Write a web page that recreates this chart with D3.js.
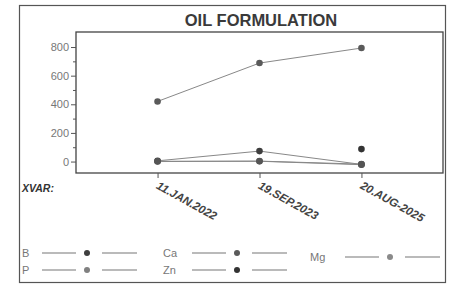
<!DOCTYPE html>
<html>
<head>
<meta charset="utf-8">
<script src="https://cdn.jsdelivr.net/npm/d3@7"></script>
<style>
    body { margin: 0; background: #fff; }
    svg { display: block; font-family: "Liberation Sans", Arial, sans-serif; }
</style>
</head>
<body>
<svg id="chart" width="457" height="286"></svg>
<script>
// Chart data
const dates = ['11.JAN.2022', '19.SEP.2023', '20.AUG-2025'];
const seriesNames = ['B', 'P', 'Ca', 'Zn', 'Mg'];
const bValues = [5, 73, -20];
const pValues = [0, 3, -18];
const caValues = [420, 688, 793];
const znValues = [null, null, 87];
const mgValues = [2, 2, -22];
const yTicks = [0, 200, 400, 600, 800];
const yMinorTicks = [100, 300, 500, 700];

const seriesValues = { B: bValues, P: pValues, Ca: caValues, Zn: znValues, Mg: mgValues };
const dotColors = { B: '#3e3e3e', P: '#808080', Ca: '#5a5a5a', Zn: '#333', Mg: '#8a8a8a' };

const svg = d3.select('#chart');

// Outer frame
svg.append('rect')
    .attr('x', 19.5).attr('y', 5.5)
    .attr('width', 426).attr('height', 277)
    .attr('fill', 'none').attr('stroke', '#555').attr('stroke-width', 1.2);

// Title
svg.append('text')
    .attr('x', 261).attr('y', 26)
    .attr('text-anchor', 'middle')
    .attr('font-size', 16.5).attr('font-weight', 'bold')
    .attr('fill', '#3a3a3a')
    .text('OIL FORMULATION');

// Plot area
const plot = { left: 76, right: 443, top: 32, bottom: 173 };

const x = d3.scalePoint()
    .domain(dates)
    .range([plot.left, plot.right])
    .padding(0.8);

const y = d3.scaleLinear()
    .domain([-80, 905])
    .range([plot.bottom, plot.top]);

svg.append('rect')
    .attr('x', plot.left).attr('y', plot.top)
    .attr('width', plot.right - plot.left).attr('height', plot.bottom - plot.top)
    .attr('fill', 'none').attr('stroke', '#444').attr('stroke-width', 1.3);

// Y axis
const yAxis = svg.append('g')
    .attr('transform', `translate(${plot.left},0)`)
    .call(d3.axisLeft(y).tickValues(yTicks).tickSize(5).tickPadding(2));
yAxis.select('.domain').remove();
yAxis.selectAll('line').attr('stroke', '#555');
yAxis.selectAll('text').attr('font-size', 11).attr('fill', '#777')
    .attr('font-family', '"Liberation Sans", Arial, sans-serif');

svg.append('g')
    .attr('transform', `translate(${plot.left},0)`)
    .call(d3.axisLeft(y).tickValues(yMinorTicks).tickSize(3).tickFormat(''))
    .call(g => g.select('.domain').remove())
    .selectAll('line').attr('stroke', '#555');

// X axis
const xAxis = svg.append('g')
    .attr('transform', `translate(0,${plot.bottom})`)
    .call(d3.axisBottom(x).tickSize(5).tickFormat(''));
xAxis.select('.domain').remove();
xAxis.selectAll('line').attr('stroke', '#555');

svg.append('g')
    .selectAll('text')
    .data(dates)
    .enter()
    .append('text')
        .attr('transform', d => `translate(${x(d) - 2},${plot.bottom + 15}) rotate(29)`)
        .attr('font-size', 11.5).attr('font-weight', 'bold').attr('font-style', 'italic')
        .attr('fill', '#444')
        .text(d => d);

svg.append('text')
    .attr('x', 22).attr('y', 192)
    .attr('font-size', 10.5).attr('font-weight', 'bold').attr('font-style', 'italic')
    .attr('fill', '#333')
    .text('XVAR:');

// Series lines and dots
const line = d3.line()
    .defined(d => d.value !== null)
    .x(d => x(d.date))
    .y(d => y(d.value));

seriesNames.forEach(name => {
    const points = dates.map((date, i) => ({ date, value: seriesValues[name][i] }));
    svg.append('path')
        .datum(points)
        .attr('d', line)
        .attr('fill', 'none')
        .attr('stroke', '#888')
        .attr('stroke-width', 1);
});

seriesNames.forEach(name => {
    const points = dates.map((date, i) => ({ date, value: seriesValues[name][i] }))
        .filter(d => d.value !== null);
    svg.selectAll(null)
        .data(points)
        .enter()
        .append('circle')
            .attr('cx', d => x(d.date))
            .attr('cy', d => y(d.value))
            .attr('r', 3.3)
            .attr('fill', name === 'Mg' || name === 'P' ? '#555' : dotColors[name]);
});

// Legend: label position and where its line sample starts
const legendPos = {
    B: [22, 253, 42], P: [22, 270, 42], Ca: [163, 253, 192], Zn: [163, 270, 192], Mg: [310, 257, 345]
};

seriesNames.forEach(name => {
    const [lx, ly, sx] = legendPos[name];
    svg.append('text')
        .attr('x', lx).attr('y', ly + 4)
        .attr('font-size', 11).attr('fill', '#777')
        .text(name);
    svg.append('line')
        .attr('x1', sx).attr('x2', sx + 34).attr('y1', ly).attr('y2', ly)
        .attr('stroke', '#777').attr('stroke-width', 1.1);
    svg.append('circle')
        .attr('cx', sx + 45).attr('cy', ly).attr('r', 3)
        .attr('fill', dotColors[name]);
    svg.append('line')
        .attr('x1', sx + 60).attr('x2', sx + 95).attr('y1', ly).attr('y2', ly)
        .attr('stroke', '#777').attr('stroke-width', 1.1);
});
</script>
</body>
</html>
